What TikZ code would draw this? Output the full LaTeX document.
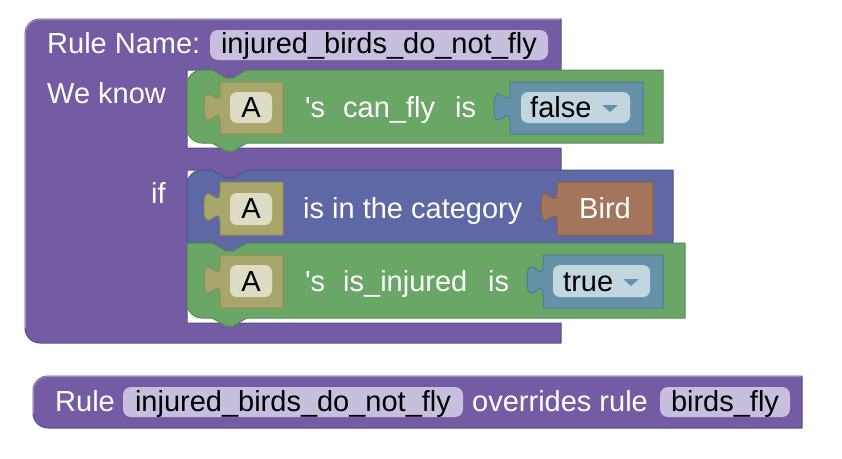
\documentclass[tikz,border=0pt]{standalone}
\usepackage{fontspec}
\setmainfont{Liberation Sans}[Ligatures=TeXOff]
\definecolor{rulepurple}{HTML}{735CA3}
\definecolor{ruleedge}{HTML}{5F4B8C}
\definecolor{rulelight}{HTML}{9D8CC4}
\definecolor{fieldpurple}{HTML}{C8BFDE}
\definecolor{factgreen}{HTML}{6AA666}
\definecolor{greenedge}{HTML}{578C53}
\definecolor{catblue}{HTML}{5D68A4}
\definecolor{blueedge}{HTML}{4B5690}
\definecolor{varolive}{HTML}{A9A66B}
\definecolor{oliveedge}{HTML}{8E8B55}
\definecolor{varfield}{HTML}{DEDCC4}
\definecolor{boolblue}{HTML}{6592A8}
\definecolor{booledge}{HTML}{527B8F}
\definecolor{boolfield}{HTML}{C3D6E0}
\definecolor{catbrown}{HTML}{A3755C}
\definecolor{brownedge}{HTML}{8A5F48}
% value block with a puzzle tab on its left side: left, right, top, bottom, style
\newcommand{\valueblock}[5]{%
  \filldraw[#5] (#1,#3) -- (#2,#3) -- (#2,#4) -- (#1,#4) -- (#1,#3+40)
    .. controls (#1,#3+20) and (#1-16,#3+56) .. (#1-16,#3+25)
    .. controls (#1-16,#3-6) and (#1,#3+30) .. (#1,#3+10) -- cycle;}
\begin{document}
\begin{tikzpicture}[x=1pt,y=-1pt,
  blk/.style={line width=1pt, line join=round},
  lbl/.style={font=\fontsize{29}{34}\selectfont, text=white, inner sep=0pt, anchor=base west},
  val/.style={font=\fontsize{29}{34}\selectfont, text=black, inner sep=0pt, anchor=base},
  valw/.style={font=\fontsize{29}{34}\selectfont, text=black, inner sep=0pt, anchor=base west}]
\useasboundingbox (0,0) rectangle (842,458);

% rule block (C-shaped, two statement inputs)
\filldraw[blk, fill=rulepurple, draw=ruleedge]
  (25,34) arc[start angle=180,end angle=270,radius=15] -- (561,19) -- (561,70)
  -- (247,70) -- (233,78) -- (226,78) -- (212,70) -- (187,70) -- (187,148)
  -- (561,148) -- (561,170)
  -- (247,170) -- (233,178) -- (226,178) -- (212,170) -- (187,170) -- (187,323)
  -- (561,323) -- (561,343) -- (40,343) arc[start angle=90,end angle=180,radius=15] -- cycle;
\draw[rulelight, line width=1pt] (25.5,328) -- (25.5,34)
  arc[start angle=180,end angle=270,radius=14.5] -- (560,19.5);
\fill[fieldpurple, rounded corners=8pt] (210,30) rectangle (548,60);
\node[lbl] (rulename) at (47,53) {Rule Name:};
\node[val] (rulefield) at (379,53) {injured\_birds\_do\_not\_fly};
\node[lbl] (weknow) at (47,103) {We know};
\node[lbl] (iflbl) at (151,203) {if};

% fact: A's can_fly is false
\filldraw[blk, fill=factgreen, draw=greenedge]
  (187,85) arc[start angle=180,end angle=270,radius=15] -- (212,70) -- (226,78) -- (233,78)
  -- (247,70) -- (663,70) -- (663,143) -- (247,143) -- (233,151) -- (226,151) -- (212,143)
  -- (202,143) arc[start angle=90,end angle=180,radius=15] -- cycle;
\valueblock{220}{283}{82}{134}{blk, fill=varolive, draw=oliveedge}
\fill[varfield, rounded corners=7pt] (230,92) rectangle (272,123);
\node[val] (var1) at (251,117) {A};
\node[lbl] (s1) at (305,117) {'s};
\node[lbl] (prop1) at (343,117) {can\_fly};
\node[lbl] (is1) at (455,117) {is};
\valueblock{510}{643}{82}{134}{blk, fill=boolblue, draw=booledge}
\fill[boolfield, rounded corners=7pt] (521,92) rectangle (630,123);
\node[valw] (bool1) at (530,117) {false};
\fill[boolblue] (602,105) -- (618,105) -- (610,112) -- cycle;

% condition: A is in the category Bird
\filldraw[blk, fill=catblue, draw=blueedge]
  (187,185) arc[start angle=180,end angle=270,radius=15] -- (212,170) -- (226,178) -- (233,178)
  -- (247,170) -- (673,170) -- (673,243) -- (247,243) -- (233,251) -- (226,251) -- (212,243)
  -- (187,243) -- cycle;
\valueblock{220}{283}{182}{235}{blk, fill=varolive, draw=oliveedge}
\fill[varfield, rounded corners=7pt] (230,193) rectangle (272,225);
\node[val] (var2) at (251,218) {A};
\node[lbl] (cat) at (303,218) {is in the category};
\valueblock{557}{653}{182}{235}{blk, fill=catbrown, draw=brownedge}
\node[val, text=white] (bird) at (605,218) {Bird};

% condition: A's is_injured is true
\filldraw[blk, fill=factgreen, draw=greenedge]
  (187,243) -- (212,243) -- (226,251) -- (233,251) -- (247,243) -- (685,243) -- (685,318)
  -- (247,318) -- (233,326) -- (226,326) -- (212,318)
  -- (202,318) arc[start angle=90,end angle=180,radius=15] -- cycle;
\valueblock{220}{283}{255}{308}{blk, fill=varolive, draw=oliveedge}
\fill[varfield, rounded corners=7pt] (230,265) rectangle (272,297);
\node[val] (var3) at (251,291) {A};
\node[lbl] (s3) at (305,291) {'s};
\node[lbl] (prop3) at (343,291) {is\_injured};
\node[lbl] (is3) at (488,291) {is};
\valueblock{543}{663}{255}{308}{blk, fill=boolblue, draw=booledge}
\fill[boolfield, rounded corners=7pt] (553,265) rectangle (650,297);
\node[valw] (bool3) at (563,291) {true};
\fill[boolblue] (623,279) -- (639,279) -- (631,286) -- cycle;

% override statement
\filldraw[blk, fill=rulepurple, draw=ruleedge]
  (33,391) arc[start angle=180,end angle=270,radius=15] -- (802,376) -- (802,428)
  -- (48,428) arc[start angle=90,end angle=180,radius=15] -- cycle;
\draw[rulelight, line width=1pt] (33.5,413) -- (33.5,391)
  arc[start angle=180,end angle=270,radius=14.5] -- (801,376.5);
\node[lbl] (rulekw) at (55,411) {Rule};
\fill[fieldpurple, rounded corners=8pt] (123,387) rectangle (463,417);
\node[val] (winner) at (293,411) {injured\_birds\_do\_not\_fly};
\node[lbl] (overrides) at (472,411) {overrides rule};
\fill[fieldpurple, rounded corners=8pt] (660,387) rectangle (790,417);
\node[val] (loser) at (725,411) {birds\_fly};
\end{tikzpicture}
\end{document}
